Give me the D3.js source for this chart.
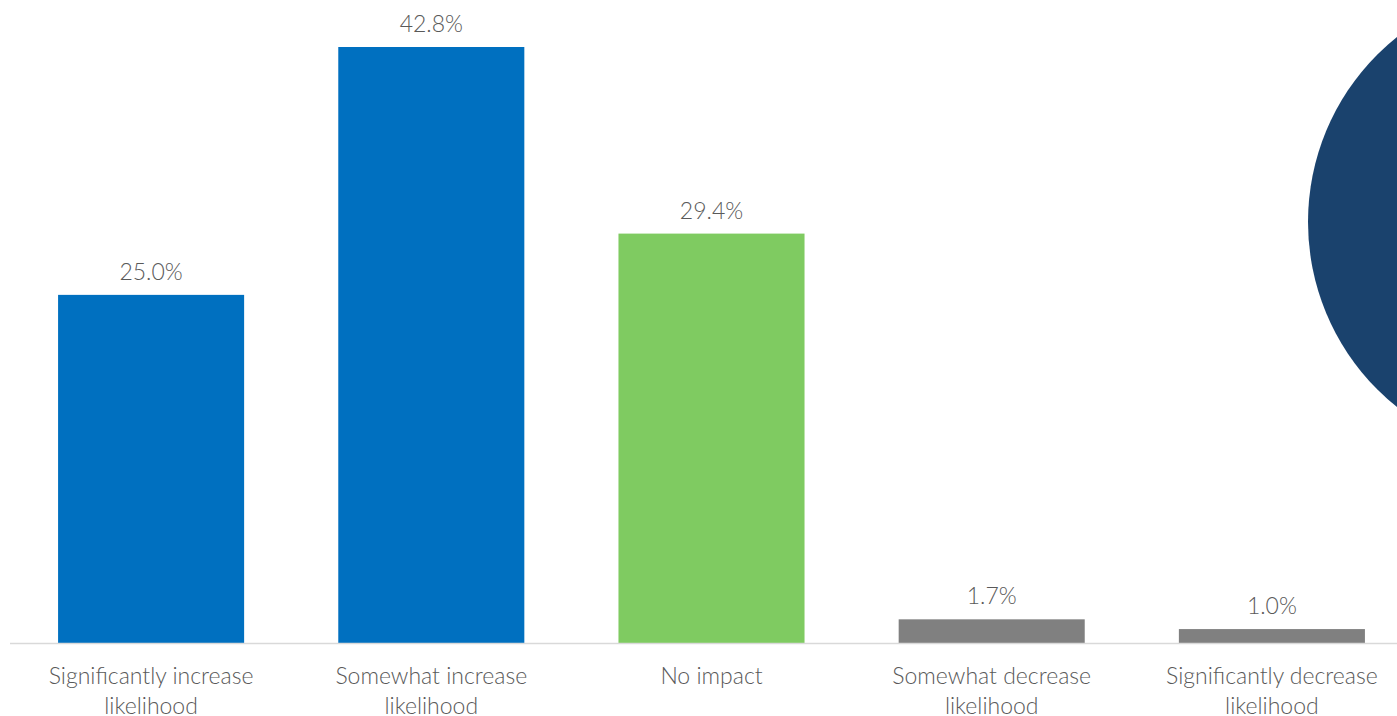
<!DOCTYPE html>
<html>
<head>
<meta charset="utf-8">
<script src="https://cdn.jsdelivr.net/npm/d3@7/dist/d3.min.js"></script>
<style>
  html, body { margin: 0; padding: 0; background: #ffffff; overflow: hidden; }
  svg { display: block; }
</style>
</head>
<body>
<svg id="chart" width="1397" height="716"></svg>
<script>
// Survey responses: effect on likelihood
const categories = [
  ["Significantly increase", "likelihood"],
  ["Somewhat increase", "likelihood"],
  ["No impact"],
  ["Somewhat decrease", "likelihood"],
  ["Significantly decrease", "likelihood"]
];
const values = [25.0, 42.8, 29.4, 1.7, 1.0];
const barColors = ["#0070C0", "#0070C0", "#7FCB61", "#808080", "#808080"];

const W = 1397, H = 716;
const svg = d3.select("#chart");
const fontFamily = "Lato, 'Open Sans', sans-serif";

// decorative navy disc at the right edge
svg.append("circle")
  .attr("cx", 1545).attr("cy", 222).attr("r", 237)
  .attr("fill", "#1A426D");

const baseline = 643;
const x = d3.scaleBand()
  .domain(d3.range(values.length))
  .range([11, 1412])
  .paddingInner(0.336)
  .paddingOuter(0.168);

const y = d3.scaleLinear()
  .domain([0, 42.8])
  .range([baseline, 47]);

// bars
svg.append("g").selectAll("rect")
  .data(values)
  .join("rect")
  .attr("x", (d, i) => x(i))
  .attr("width", x.bandwidth())
  .attr("y", d => y(d))
  .attr("height", d => baseline - y(d))
  .attr("fill", (d, i) => barColors[i]);

// category axis line
svg.append("line")
  .attr("x1", 10).attr("x2", W)
  .attr("y1", baseline + 0.5).attr("y2", baseline + 0.5)
  .attr("stroke", "#D9D9D9").attr("stroke-width", 1.5);

// value labels
svg.append("g").selectAll("text")
  .data(values)
  .join("text")
  .attr("x", (d, i) => x(i) + x.bandwidth() / 2)
  .attr("y", d => y(d) - 15)
  .attr("text-anchor", "middle")
  .attr("font-family", fontFamily)
  .attr("font-weight", 300)
  .attr("font-size", 23)
  .attr("fill", "#595959")
  .text(d => d.toFixed(1) + "%");

// category labels (wrapped)
const labels = svg.append("g").selectAll("text")
  .data(categories)
  .join("text")
  .attr("x", (d, i) => x(i) + x.bandwidth() / 2)
  .attr("y", 684)
  .attr("text-anchor", "middle")
  .attr("font-family", fontFamily)
  .attr("font-weight", 300)
  .attr("font-size", 23)
  .attr("fill", "#595959");

labels.each(function(lines, i) {
  const t = d3.select(this);
  lines.forEach((ln, k) => {
    t.append("tspan")
      .attr("x", x(i) + x.bandwidth() / 2)
      .attr("dy", k === 0 ? 0 : 30)
      .text(ln);
  });
});
</script>
</body>
</html>
